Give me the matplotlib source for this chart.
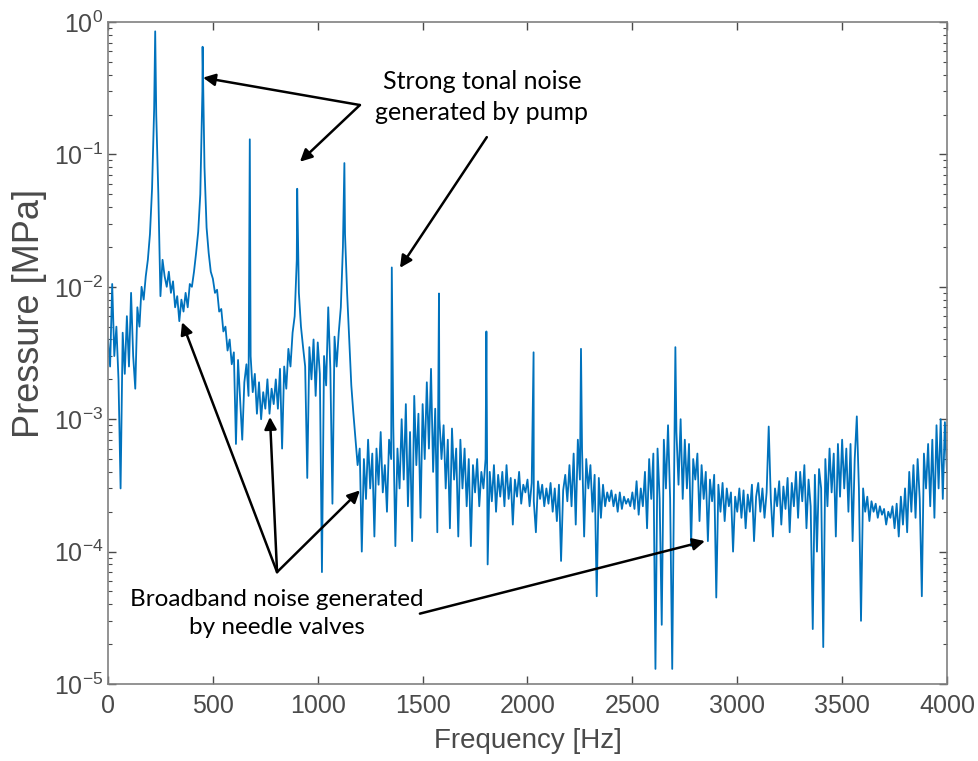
import numpy as np
import matplotlib
matplotlib.use('Agg')
import matplotlib.pyplot as plt

# Espectro de pressao (passo de 10 Hz, 0 a 4000 Hz)
freq_grid = np.arange(0, 4001, 10)
pressure_grid = [
    4e-3, 2.5e-3, 1.05e-2, 3e-3, 5e-3, 2e-3, 3e-4, 4.5e-3, 2.2e-3, 6e-3,
    2.5e-3, 9e-3, 3e-3, 1.7e-3, 7e-3, 5e-3, 1e-2, 8e-3, 1.2e-2, 1.6e-2,
    2.5e-2, 5.5e-2, 2.2e-1, 2.0e-1, 5e-2, 8.5e-3, 1.6e-2, 1.2e-2, 1e-2, 1.3e-2,
    9e-3, 1.1e-2, 7e-3, 8.5e-3, 5.5e-3, 8e-3, 6.5e-3, 9e-3, 7e-3, 1.05e-2,
    1e-2, 1.3e-2, 1.8e-2, 2.6e-2, 5e-2, 3e-1, 8e-2, 2.8e-2, 1.8e-2, 1.3e-2,
    1.15e-2, 9e-3, 9.5e-3, 6.5e-3, 6.8e-3, 4.6e-3, 5e-3, 3.3e-3, 4e-3, 2.6e-3,
    3.2e-3, 6.5e-4, 2.8e-3, 1.4e-3, 7e-4, 1.9e-3, 2.6e-3, 1.5e-3, 3e-3, 1.6e-3,
    2.2e-3, 1.1e-3, 1.9e-3, 1e-3, 1.6e-3, 1.2e-3, 2e-3, 1.1e-3, 1.7e-3, 1.3e-3,
    2e-3, 1.2e-3, 2.4e-3, 6e-4, 2.5e-3, 1.7e-3, 3.4e-3, 2.5e-3, 4.5e-3, 6e-3,
    1.6e-2, 9e-3, 5e-3, 3.5e-3, 2.5e-3, 3.6e-4, 3.5e-3, 2e-3, 4e-3, 1.5e-3,
    3.8e-3, 2.2e-3, 7e-5, 3e-3, 1.8e-3, 7e-3, 2.4e-3, 2.3e-4, 4.2e-3, 2.5e-3,
    4.5e-3, 7e-3, 2e-2, 2.5e-2, 9e-3, 4e-3, 1.8e-3, 1.1e-3, 7e-4, 4.5e-4,
    6e-4, 1e-4, 5e-4, 2.5e-4, 7e-4, 3e-4, 5.5e-4, 1.3e-4, 6e-4, 3.2e-4,
    8e-4, 2.8e-4, 4.5e-4, 2e-4, 7e-4, 5e-4, 9e-4, 1.1e-4, 6e-4, 3e-4,
    1e-3, 3.5e-4, 1.3e-3, 2.2e-4, 8e-4, 1.2e-4, 1.5e-3, 4.5e-4, 1.1e-3, 1.8e-4,
    1.3e-3, 5e-4, 1.9e-3, 6e-4, 2.4e-3, 4e-4, 1.2e-3, 1.4e-4, 1e-3, 5e-4,
    9e-4, 3e-4, 7e-4, 1.5e-4, 8.5e-4, 3.5e-4, 6e-4, 1.3e-4, 7e-4, 3e-4,
    6e-4, 2.2e-4, 5e-4, 1.1e-4, 4.5e-4, 2.8e-4, 5e-4, 2.2e-4, 4e-4, 3e-4,
    5e-4, 8e-5, 4e-4, 2.4e-4, 4.5e-4, 2e-4, 3.8e-4, 2.6e-4, 4e-4, 2.2e-4,
    4.5e-4, 2.5e-4, 3.6e-4, 1.6e-4, 3.5e-4, 2.6e-4, 4e-4, 2.3e-4, 3.2e-4, 2.8e-4,
    3.5e-4, 2.2e-4, 3.3e-4, 2.4e-4, 1.4e-4, 3.4e-4, 2.5e-4, 3.2e-4, 2.2e-4, 3e-4,
    2.3e-4, 3.3e-4, 2e-4, 3e-4, 1.7e-4, 3.2e-4, 8.5e-5, 2.9e-4, 3.8e-4, 2.4e-4,
    4.5e-4, 2.2e-4, 5.5e-4, 1.6e-4, 7e-4, 3.5e-4, 6e-4, 1.3e-4, 5e-4, 3e-4,
    4.5e-4, 2e-4, 3.8e-4, 4.6e-5, 3.6e-4, 1.8e-4, 3.2e-4, 2.2e-4, 2.8e-4, 2.4e-4,
    2.9e-4, 2.2e-4, 2.7e-4, 2e-4, 2.8e-4, 2.1e-4, 2.6e-4, 2.3e-4, 2.5e-4, 2.2e-4,
    2.8e-4, 2.1e-4, 3.4e-4, 1.9e-4, 3e-4, 2.2e-4, 4e-4, 1.5e-4, 5e-4, 2.5e-4,
    5.5e-4, 1.3e-5, 6e-4, 2.5e-4, 2.8e-5, 7e-4, 3e-4, 9e-4, 2.5e-4, 1.3e-5,
    6e-4, 8e-4, 3.2e-4, 1e-3, 2.5e-4, 7e-4, 3e-4, 6.5e-4, 1.1e-4, 5e-4,
    3.5e-4, 5.5e-4, 1.7e-4, 4.5e-4, 2.5e-4, 4e-4, 1.2e-4, 3.5e-4, 2.4e-4, 3.8e-4,
    4.5e-5, 3.2e-4, 2e-4, 3.3e-4, 1.7e-4, 3e-4, 2.2e-4, 2.8e-4, 1e-4, 2.6e-4,
    2e-4, 3e-4, 1.8e-4, 2.9e-4, 1.5e-4, 2.7e-4, 2e-4, 3.2e-4, 1.2e-4, 2.6e-4,
    3.3e-4, 2e-4, 3e-4, 1.8e-4, 2.8e-4, 8.8e-4, 2.5e-4, 1.3e-4, 3e-4, 2.2e-4,
    3.4e-4, 1.6e-4, 3.1e-4, 2.1e-4, 3.6e-4, 1.4e-4, 3.3e-4, 2.2e-4, 4e-4, 1.8e-4,
    4e-4, 2.4e-4, 4.5e-4, 1.5e-4, 3.5e-4, 2.2e-4, 2.6e-5, 3.8e-4, 1e-4, 4.2e-4,
    3e-4, 1.9e-5, 5e-4, 2.2e-4, 6e-4, 2.8e-4, 5.5e-4, 1.3e-4, 6.5e-4, 2.6e-4,
    7e-4, 3e-4, 6e-4, 2e-4, 6.5e-4, 1.2e-4, 5e-4, 1.05e-3, 3e-4, 3e-5,
    3e-4, 2e-4, 2.6e-4, 1.7e-4, 2.4e-4, 2e-4, 2.3e-4, 1.8e-4, 2.2e-4, 1.9e-4,
    2.1e-4, 1.6e-4, 2e-4, 1.8e-4, 2.2e-4, 1.5e-4, 2.3e-4, 1.3e-4, 2.6e-4, 1.6e-4,
    3e-4, 1.4e-4, 4e-4, 2e-4, 4.5e-4, 1.8e-4, 5e-4, 2.5e-4, 4.6e-5, 5.5e-4,
    3e-4, 6.5e-4, 2.2e-4, 7e-4, 1.8e-4, 9e-4, 3e-4, 1e-3, 2.5e-4, 9.5e-4, 4e-4,
]

# Picos tonais da bomba (harmonicos)
peak_freq = [225, 451, 676, 902, 1127, 1353, 1578, 1804, 2029, 2255, 2705]
peak_pressure = [0.85, 0.65, 0.13, 0.055, 0.086, 0.014, 8.9e-3, 4.6e-3,
                 3.2e-3, 3.4e-3, 3.5e-3]

freq = np.concatenate([freq_grid, peak_freq])
pressure = np.concatenate([pressure_grid, peak_pressure])
ordem = np.argsort(freq, kind='stable')
freq = freq[ordem]
pressure = pressure[ordem]

plt.rcParams['axes.unicode_minus'] = False
tick_font = ['Liberation Sans', 'DejaVu Sans']
note_font = ['Lato', 'DejaVu Sans']
cinza = '#4a4a4a'

fig = plt.figure(figsize=(9.79, 7.61), dpi=100)
ax = fig.add_axes([108 / 979, 1 - 684 / 761, 839 / 979, 662 / 761])

ax.plot(freq, pressure, color='#0072BD', lw=1.3)
ax.set_yscale('log')
ax.set_xlim(0, 4000)
ax.set_ylim(1e-5, 1e0)
ax.set_xticks(np.arange(0, 4001, 500))

ax.tick_params(which='both', direction='in', top=True, right=True,
               colors=cinza, labelsize=18)
ax.tick_params(axis='x', pad=7)
ax.tick_params(which='major', length=6, width=1)
ax.tick_params(which='minor', length=3, width=0.8)
for lab in ax.get_xticklabels() + ax.get_yticklabels():
    lab.set_family(tick_font)
for s in ax.spines.values():
    s.set_color('#808080')
    s.set_linewidth(1.2)

ax.set_xlabel('Frequency [Hz]', fontsize=20, color=cinza, family=tick_font)
ax.set_ylabel('Pressure [MPa]', fontsize=26, color=cinza, family=tick_font)
ax.xaxis.set_label_coords(0.5, -0.066)
ax.yaxis.set_label_coords(-0.073, 0.56)

# Anotacoes
seta = dict(arrowstyle='-|>', color='black', lw=1.8, mutation_scale=18,
            shrinkA=0, shrinkB=0)

ax.text(1783, 0.27, 'Strong tonal noise\ngenerated by pump', ha='center', va='center',
        fontsize=18, family=note_font, linespacing=1.4)
ax.annotate('', xy=(453, 0.38), xytext=(1201, 0.236), arrowprops=seta)
ax.annotate('', xy=(915, 0.088), xytext=(1201, 0.236), arrowprops=seta)
ax.annotate('', xy=(1392, 0.0139), xytext=(1806, 0.135), arrowprops=seta)

ax.text(806, 3.4e-5, 'Broadband noise generated\nby needle valves', ha='center', va='center',
        fontsize=17.5, family=note_font, linespacing=1.4)
ax.annotate('', xy=(353, 5.4e-3), xytext=(806, 7e-5), arrowprops=seta)
ax.annotate('', xy=(772, 1.04e-3), xytext=(806, 7e-5), arrowprops=seta)
ax.annotate('', xy=(1201, 2.9e-4), xytext=(806, 7e-5), arrowprops=seta)
ax.annotate('', xy=(2846, 1.2e-4), xytext=(1487, 3.4e-5), arrowprops=seta)

fig.savefig('out.png', dpi=100)
